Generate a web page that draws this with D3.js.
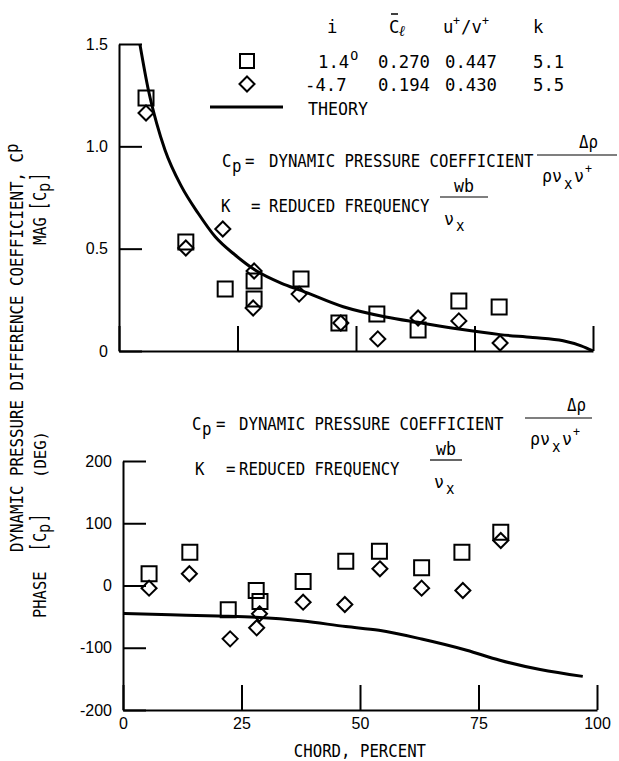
<!DOCTYPE html>
<html>
<head>
<meta charset="utf-8">
<script src="https://cdn.jsdelivr.net/npm/d3@7"></script>
<style>
	body { margin: 0; background: #fff; }
	svg text { fill: #000; }
	.mono { font-family: 'DejaVu Sans Mono', monospace; }
	.tick text { font-family: 'Liberation Sans', Arial, sans-serif; font-size: 16px; }
</style>
</head>
<body>
<div id="root"></div>
<script>
// chord stations and measured values, magnitude plot
const chordMagSq	= [5.7, 14.1, 22.4, 28.5, 28.5, 38.4, 46.4, 54.4, 63.1, 71.7, 80.2];
const magSquare		= [1.236, 0.532, 0.303, 0.342, 0.254, 0.352, 0.137, 0.181, 0.103, 0.244, 0.215];
const chordMagDi	= [5.7, 14.1, 21.9, 28.5, 28.3, 38.0, 46.8, 54.6, 63.1, 71.7, 80.4];
const magDiamond	= [1.163, 0.503, 0.596, 0.391, 0.21, 0.278, 0.137, 0.059, 0.161, 0.147, 0.039];
const theoryMagX	= [4.4, 6.2, 7.95, 9.7, 13.2, 16.7, 20.3, 24.5, 28.7, 34.3, 38.5, 47.3, 56.3, 63.5, 71.7, 80.4, 87.3, 93.7, 97.5, 100];
const theoryMag		= [1.5, 1.275, 1.112, 0.982, 0.803, 0.673, 0.558, 0.469, 0.396, 0.331, 0.295, 0.216, 0.166, 0.138, 0.107, 0.08, 0.066, 0.05, 0.025, 0];

// phase plot
const chordPhSq		= [5.5, 14.1, 22.2, 28.1, 28.9, 38.0, 47.0, 54.1, 63.0, 71.5, 79.7];
const phaseSquare	= [18.8, 53.5, -39, -8, -25.7, 6.4, 39, 55, 28.4, 53.5, 85.6];
const chordPhDi		= [5.5, 14.0, 22.6, 28.2, 28.8, 38.0, 46.8, 54.2, 63.0, 71.7, 79.7];
const phaseDiamond	= [-4.3, 18.8, -85.7, -68, -45.5, -26.8, -30.5, 26.8, -4.3, -8, 72.3];
const theoryPhX		= [0, 10, 20, 28, 38, 47, 54, 63, 72.5, 79.5, 88, 97];
const theoryPhase	= [-45, -47, -49, -51, -57, -66, -72, -86, -104, -120, -135, -146];

const magTicks		= [0, 0.5, 1.0, 1.5];
const phaseTicks	= [-200, -100, 0, 100, 200];
const chordTicks	= [0, 25, 50, 75, 100];

// legend table
const legendRows	= [
	{ shape: 'square', vals: ['1.4', '0.270', '0.447', '5.1'] },
	{ shape: 'diamond', vals: ['-4.7', '0.194', '0.430', '5.5'] },
];

const W = 619, H = 761;

const svg = d3.select('#root').append('svg')
	.attr('width', W)
	.attr('height', H);

svg.append('rect').attr('width', W).attr('height', H).attr('fill', '#fff');

const xMag	= d3.scaleLinear().domain([0, 100]).range([119, 593]);
const yMag	= d3.scaleLinear().domain([0, 1.5]).range([351, 44]);
const xPh	= d3.scaleLinear().domain([0, 100]).range([123, 597]);
const yPh	= d3.scaleLinear().domain([-200, 200]).range([710, 461]);

function drawAxes(x, y, yTicks, yFmt, showX) {
	let g = svg.append('g');
	g.append('g')
		.attr('transform', 'translate(' + x.range()[0] + ',0)')
		.call(d3.axisLeft(y).tickValues(yTicks).tickSize(-23).tickSizeOuter(0).tickPadding(11).tickFormat(yFmt));
	g.append('g')
		.attr('transform', 'translate(0,' + y.range()[0] + ')')
		.call(d3.axisBottom(x).tickValues(chordTicks).tickSize(-25).tickSizeOuter(0).tickPadding(8)
			.tickFormat(showX ? (d) => String(d) : () => ''));
	g.selectAll('path.domain').attr('stroke', '#000').attr('stroke-width', 2);
	g.selectAll('.tick line').attr('stroke', '#000').attr('stroke-width', 2);
	return g;
}

drawAxes(xMag, yMag, magTicks, (d) => (d === 0 ? '0' : d3.format('.1f')(d)), false);
drawAxes(xPh, yPh, phaseTicks, (d) => String(d), true);

function drawTheory(xs, ys, x, y) {
	let line = d3.line().x((d) => x(d[0])).y((d) => y(d[1])).curve(d3.curveMonotoneX);
	svg.append('path')
		.datum(d3.zip(xs, ys))
		.attr('d', line)
		.attr('fill', 'none')
		.attr('stroke', '#000')
		.attr('stroke-width', 3);
}

const sqSym	= d3.symbol().type(d3.symbolSquare).size(15 * 15);
const diSym	= d3.symbol().type(d3.symbolDiamond2).size(12 * 12);

function drawPoints(xs, ys, x, y, sym) {
	svg.append('g').selectAll('path')
		.data(d3.zip(xs, ys)).enter().append('path')
		.attr('d', sym)
		.attr('transform', (d) => 'translate(' + x(d[0]) + ',' + y(d[1]) + ')')
		.attr('fill', 'none')
		.attr('stroke', '#000')
		.attr('stroke-width', 2);
}

drawTheory(theoryMagX, theoryMag, xMag, yMag);
drawPoints(chordMagDi, magDiamond, xMag, yMag, diSym);
drawPoints(chordMagSq, magSquare, xMag, yMag, sqSym);

drawTheory(theoryPhX, theoryPhase, xPh, yPh);
drawPoints(chordPhDi, phaseDiamond, xPh, yPh, diSym);
drawPoints(chordPhSq, phaseSquare, xPh, yPh, sqSym);

// tall narrow lettering: mono glyphs squeezed horizontally to a fixed pitch
const MONO_ADV = 0.602;
function mtext(g, x, y, s, size, pitch) {
	let sx = pitch / (MONO_ADV * size);
	return g.append('text')
		.attr('transform', 'translate(' + x + ',' + y + ') scale(' + sx + ',1)')
		.style('font-size', size + 'px')
		.text(s);
}

// legend
const colX	= [318, 378, 445, 533];
const lg	= svg.append('g').attr('class', 'mono');

mtext(lg, 327, 33, 'i', 18, 10.4);
mtext(lg, 389, 33, 'C', 18, 10.4);
lg.append('text').attr('x', 399).attr('y', 36).style('font-size', '15px').style('font-style', 'italic').style('font-weight', 'bold').text('\u2113');
lg.append('line').attr('x1', 391).attr('x2', 398).attr('y1', 14).attr('y2', 14).attr('stroke', '#000').attr('stroke-width', 1.5);
mtext(lg, 443, 33, 'u', 18, 10.4);
mtext(lg, 453, 25, '+', 12, 7);
mtext(lg, 461, 33, '/v', 18, 10.4);
mtext(lg, 482, 25, '+', 12, 7);
mtext(lg, 533, 33, 'k', 18, 10.4);

legendRows.forEach((r, i) => {
	let yy = 68 + i * 23;
	lg.append('path')
		.attr('d', r.shape === 'square' ? d3.symbol().type(d3.symbolSquare).size(14 * 14)() : diSym())
		.attr('transform', 'translate(247,' + (yy - 7) + ')')
		.attr('fill', 'none').attr('stroke', '#000').attr('stroke-width', 2);
	r.vals.forEach((v, j) => {
		let xx = j === 0 ? (i === 0 ? 318 : 305) : colX[j];
		mtext(lg, xx, yy, v, 18, 10.4);
		if (i === 0 && j === 0) mtext(lg, xx + v.length * 10.4 + 1, yy - 8, 'O', 12, 8);
	});
});
lg.append('line').attr('x1', 210).attr('x2', 283).attr('y1', 107).attr('y2', 107).attr('stroke', '#000').attr('stroke-width', 3);
mtext(lg, 308, 115, 'THEORY', 18, 10);

// definitions block
function defBlock(o) {
	let g = svg.append('g').attr('class', 'mono');
	let p = 9.45;
	mtext(g, o.cx, o.y1, 'C', 18, p);
	mtext(g, o.cx + 10, o.y1 + 5, 'p', 18, p);
	mtext(g, o.eq1, o.y1, '=', 18, p);
	mtext(g, o.tx, o.y1, 'DYNAMIC PRESSURE COEFFICIENT', 18, p);
	g.append('line').attr('x1', o.f1[0]).attr('x2', o.f1[1]).attr('y1', o.y1 - 12).attr('y2', o.y1 - 12)
		.attr('stroke', '#000').attr('stroke-width', 1.2);
	mtext(g, o.f1[0] + 42, o.y1 - 19, '\u0394\u03c1', 18, 9.5);
	mtext(g, o.f1[0] + 5, o.y1 + 15, '\u03c1\u03bd', 18, 10);
	mtext(g, o.f1[0] + 27, o.y1 + 22, 'x', 16, 8.5);
	mtext(g, o.f1[0] + 37, o.y1 + 15, '\u03bd', 18, 10);
	mtext(g, o.f1[0] + 48, o.y1 + 6, '+', 12, 7);

	mtext(g, o.kx, o.y2, 'K', 18, p);
	mtext(g, o.eq2, o.y2, '=', 18, p);
	mtext(g, o.tx, o.y2, 'REDUCED FREQUENCY', 18, p);
	g.append('line').attr('x1', o.f2[0]).attr('x2', o.f2[1]).attr('y1', o.y2 - 15).attr('y2', o.y2 - 15)
		.attr('stroke', '#000').attr('stroke-width', 1.2);
	mtext(g, (o.f2[0] + o.f2[1]) / 2 - 10, o.y2 - 20, 'wb', 18, 10);
	mtext(g, o.f2[0] + 4, o.y2 + 13, '\u03bd', 18, 10);
	mtext(g, o.f2[0] + 16, o.y2 + 19, 'x', 16, 8.5);
}

defBlock({ cx: 222, eq1: 245, tx: 269, y1: 167, f1: [537, 617], kx: 221, eq2: 251, y2: 212, f2: [440, 488] });
defBlock({ cx: 192, eq1: 216, tx: 239, y1: 430, f1: [525, 592], kx: 195, eq2: 226, y2: 475, f2: [430, 462] });

// axis titles
const yl = svg.append('g').attr('class', 'mono');
function rtext(x, y, s, size, pitch) {
	let g = yl.append('g').attr('transform', 'translate(' + x + ',' + y + ') rotate(-90)');
	mtext(g, 0, 0, s, size, pitch);
	return g;
}
rtext(23, 552, 'DYNAMIC PRESSURE DIFFERENCE COEFFICIENT, C', 17.5, 9.5);
rtext(18, 153, 'p', 17.5, 9.5);

rtext(46, 245, 'MAG', 17.5, 9.3);
rtext(47, 210, '[', 23, 8);
rtext(46, 201, 'C', 17.5, 9.3);
rtext(50, 192, 'p', 17.5, 9.3);
rtext(47, 181, ']', 23, 8);

rtext(46, 618, 'PHASE', 17.5, 9.3);
rtext(47, 551, '[', 23, 8);
rtext(46, 542, 'C', 17.5, 9.3);
rtext(50, 533, 'p', 17.5, 9.3);
rtext(47, 522, ']', 23, 8);
rtext(46, 478, '(DEG)', 15, 9.4);

let ct = 'CHORD, PERCENT';
mtext(svg.append('g').attr('class', 'mono'), (xPh(0) + xPh(100)) / 2 - ct.length * 9.45 / 2, 757, ct, 17.5, 9.45);
</script>
</body>
</html>
